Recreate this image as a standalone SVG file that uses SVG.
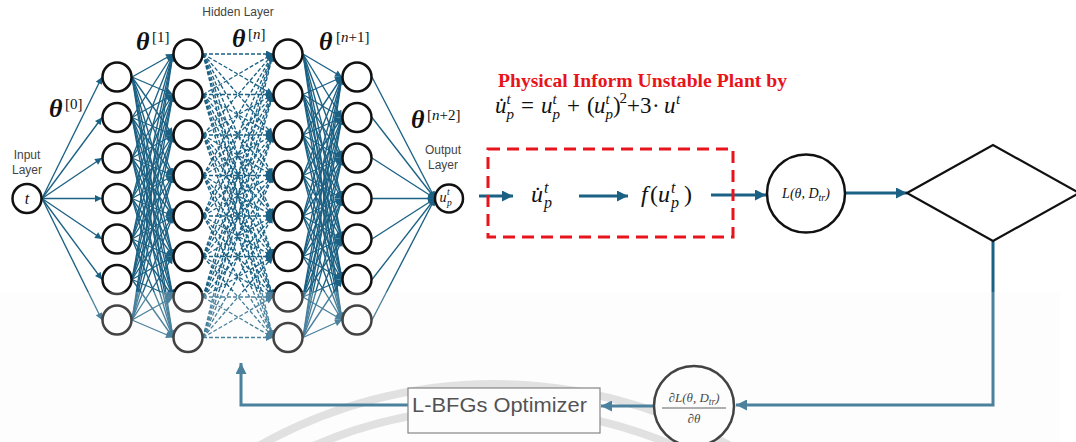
<svg xmlns="http://www.w3.org/2000/svg" width="1076" height="442" viewBox="0 0 1076 442">
<defs>
<style>
.nn{fill:#fff;stroke:#111;stroke-width:2.5}
.w{stroke:#1b6184;stroke-width:1.35;fill:none;marker-end:url(#ah)}
.d{stroke-dasharray:4 2}
.big{stroke:#1b6184;stroke-width:3;fill:none}
.bigA{marker-end:url(#ahBig)}
.m{font-family:"Liberation Serif","DejaVu Serif",serif;font-style:italic;fill:#111}
.r{font-family:"Liberation Serif","DejaVu Serif",serif;font-style:normal;fill:#111}
.th{font-family:"Liberation Serif","DejaVu Serif",serif;font-weight:bold;font-style:italic;font-size:26px;fill:#111}
.sup{font-family:"Liberation Serif","DejaVu Serif",serif;font-size:15px;fill:#111}
.lbl{font-family:"Liberation Sans",Arial,sans-serif;fill:#444;font-size:12px;text-anchor:middle}
</style>
<marker id="ah" viewBox="0 0 10 10" refX="10" refY="5" markerWidth="8" markerHeight="7" markerUnits="userSpaceOnUse" orient="auto"><path d="M0,0 L10,5 L0,10 z" fill="#1b6184"/></marker>
<marker id="ahBig" viewBox="0 0 10 10" refX="10" refY="5" markerWidth="13" markerHeight="11" markerUnits="userSpaceOnUse" orient="auto"><path d="M0,0 L10,5 L0,10 z" fill="#1b6184"/></marker>
</defs>
<rect width="1076" height="442" fill="#fff"/>

<!-- faint background arcs -->
<g fill="none" stroke="#dcdcdc" stroke-width="8">
<path d="M250,451 A480,480 0 0 1 760,464"/>
<path d="M300,452 A455,455 0 0 1 740,481"/>
</g>

<g id="connectors">
<!-- input -> layer 1 -->
<g class="w">
<line x1="42" y1="198.5" x2="102" y2="77"/>
<line x1="42" y1="198.5" x2="102" y2="117.5"/>
<line x1="42" y1="198.5" x2="102" y2="158"/>
<line x1="42" y1="198.5" x2="102" y2="198.5"/>
<line x1="42" y1="198.5" x2="102" y2="239"/>
<line x1="42" y1="198.5" x2="102" y2="279.5"/>
<line x1="42" y1="198.5" x2="102" y2="320"/>
</g>
<!-- layer 1 -> layer 2 -->
<g class="w">
<line x1="132" y1="77" x2="173" y2="54"/><line x1="132" y1="77" x2="173" y2="94.5"/><line x1="132" y1="77" x2="173" y2="135"/><line x1="132" y1="77" x2="173" y2="175.5"/><line x1="132" y1="77" x2="173" y2="216"/><line x1="132" y1="77" x2="173" y2="256.5"/><line x1="132" y1="77" x2="173" y2="297"/><line x1="132" y1="77" x2="173" y2="337.5"/>
<line x1="132" y1="117.5" x2="173" y2="54"/><line x1="132" y1="117.5" x2="173" y2="94.5"/><line x1="132" y1="117.5" x2="173" y2="135"/><line x1="132" y1="117.5" x2="173" y2="175.5"/><line x1="132" y1="117.5" x2="173" y2="216"/><line x1="132" y1="117.5" x2="173" y2="256.5"/><line x1="132" y1="117.5" x2="173" y2="297"/><line x1="132" y1="117.5" x2="173" y2="337.5"/>
<line x1="132" y1="158" x2="173" y2="54"/><line x1="132" y1="158" x2="173" y2="94.5"/><line x1="132" y1="158" x2="173" y2="135"/><line x1="132" y1="158" x2="173" y2="175.5"/><line x1="132" y1="158" x2="173" y2="216"/><line x1="132" y1="158" x2="173" y2="256.5"/><line x1="132" y1="158" x2="173" y2="297"/><line x1="132" y1="158" x2="173" y2="337.5"/>
<line x1="132" y1="198.5" x2="173" y2="54"/><line x1="132" y1="198.5" x2="173" y2="94.5"/><line x1="132" y1="198.5" x2="173" y2="135"/><line x1="132" y1="198.5" x2="173" y2="175.5"/><line x1="132" y1="198.5" x2="173" y2="216"/><line x1="132" y1="198.5" x2="173" y2="256.5"/><line x1="132" y1="198.5" x2="173" y2="297"/><line x1="132" y1="198.5" x2="173" y2="337.5"/>
<line x1="132" y1="239" x2="173" y2="54"/><line x1="132" y1="239" x2="173" y2="94.5"/><line x1="132" y1="239" x2="173" y2="135"/><line x1="132" y1="239" x2="173" y2="175.5"/><line x1="132" y1="239" x2="173" y2="216"/><line x1="132" y1="239" x2="173" y2="256.5"/><line x1="132" y1="239" x2="173" y2="297"/><line x1="132" y1="239" x2="173" y2="337.5"/>
<line x1="132" y1="279.5" x2="173" y2="54"/><line x1="132" y1="279.5" x2="173" y2="94.5"/><line x1="132" y1="279.5" x2="173" y2="135"/><line x1="132" y1="279.5" x2="173" y2="175.5"/><line x1="132" y1="279.5" x2="173" y2="216"/><line x1="132" y1="279.5" x2="173" y2="256.5"/><line x1="132" y1="279.5" x2="173" y2="297"/><line x1="132" y1="279.5" x2="173" y2="337.5"/>
<line x1="132" y1="320" x2="173" y2="54"/><line x1="132" y1="320" x2="173" y2="94.5"/><line x1="132" y1="320" x2="173" y2="135"/><line x1="132" y1="320" x2="173" y2="175.5"/><line x1="132" y1="320" x2="173" y2="216"/><line x1="132" y1="320" x2="173" y2="256.5"/><line x1="132" y1="320" x2="173" y2="297"/><line x1="132" y1="320" x2="173" y2="337.5"/>
</g>
<!-- layer 2 -> layer 3 (dashed) -->
<g class="w d">
<line x1="203" y1="54" x2="273" y2="54"/><line x1="203" y1="54" x2="273" y2="94.5"/><line x1="203" y1="54" x2="273" y2="135"/><line x1="203" y1="54" x2="273" y2="175.5"/><line x1="203" y1="54" x2="273" y2="216"/><line x1="203" y1="54" x2="273" y2="256.5"/><line x1="203" y1="54" x2="273" y2="297"/><line x1="203" y1="54" x2="273" y2="337.5"/>
<line x1="203" y1="94.5" x2="273" y2="54"/><line x1="203" y1="94.5" x2="273" y2="94.5"/><line x1="203" y1="94.5" x2="273" y2="135"/><line x1="203" y1="94.5" x2="273" y2="175.5"/><line x1="203" y1="94.5" x2="273" y2="216"/><line x1="203" y1="94.5" x2="273" y2="256.5"/><line x1="203" y1="94.5" x2="273" y2="297"/><line x1="203" y1="94.5" x2="273" y2="337.5"/>
<line x1="203" y1="135" x2="273" y2="54"/><line x1="203" y1="135" x2="273" y2="94.5"/><line x1="203" y1="135" x2="273" y2="135"/><line x1="203" y1="135" x2="273" y2="175.5"/><line x1="203" y1="135" x2="273" y2="216"/><line x1="203" y1="135" x2="273" y2="256.5"/><line x1="203" y1="135" x2="273" y2="297"/><line x1="203" y1="135" x2="273" y2="337.5"/>
<line x1="203" y1="175.5" x2="273" y2="54"/><line x1="203" y1="175.5" x2="273" y2="94.5"/><line x1="203" y1="175.5" x2="273" y2="135"/><line x1="203" y1="175.5" x2="273" y2="175.5"/><line x1="203" y1="175.5" x2="273" y2="216"/><line x1="203" y1="175.5" x2="273" y2="256.5"/><line x1="203" y1="175.5" x2="273" y2="297"/><line x1="203" y1="175.5" x2="273" y2="337.5"/>
<line x1="203" y1="216" x2="273" y2="54"/><line x1="203" y1="216" x2="273" y2="94.5"/><line x1="203" y1="216" x2="273" y2="135"/><line x1="203" y1="216" x2="273" y2="175.5"/><line x1="203" y1="216" x2="273" y2="216"/><line x1="203" y1="216" x2="273" y2="256.5"/><line x1="203" y1="216" x2="273" y2="297"/><line x1="203" y1="216" x2="273" y2="337.5"/>
<line x1="203" y1="256.5" x2="273" y2="54"/><line x1="203" y1="256.5" x2="273" y2="94.5"/><line x1="203" y1="256.5" x2="273" y2="135"/><line x1="203" y1="256.5" x2="273" y2="175.5"/><line x1="203" y1="256.5" x2="273" y2="216"/><line x1="203" y1="256.5" x2="273" y2="256.5"/><line x1="203" y1="256.5" x2="273" y2="297"/><line x1="203" y1="256.5" x2="273" y2="337.5"/>
<line x1="203" y1="297" x2="273" y2="54"/><line x1="203" y1="297" x2="273" y2="94.5"/><line x1="203" y1="297" x2="273" y2="135"/><line x1="203" y1="297" x2="273" y2="175.5"/><line x1="203" y1="297" x2="273" y2="216"/><line x1="203" y1="297" x2="273" y2="256.5"/><line x1="203" y1="297" x2="273" y2="297"/><line x1="203" y1="297" x2="273" y2="337.5"/>
<line x1="203" y1="337.5" x2="273" y2="54"/><line x1="203" y1="337.5" x2="273" y2="94.5"/><line x1="203" y1="337.5" x2="273" y2="135"/><line x1="203" y1="337.5" x2="273" y2="175.5"/><line x1="203" y1="337.5" x2="273" y2="216"/><line x1="203" y1="337.5" x2="273" y2="256.5"/><line x1="203" y1="337.5" x2="273" y2="297"/><line x1="203" y1="337.5" x2="273" y2="337.5"/>
</g>
<!-- layer 3 -> layer 4 -->
<g class="w">
<line x1="303" y1="54" x2="342" y2="77"/><line x1="303" y1="54" x2="342" y2="117.5"/><line x1="303" y1="54" x2="342" y2="158"/><line x1="303" y1="54" x2="342" y2="198.5"/><line x1="303" y1="54" x2="342" y2="239"/><line x1="303" y1="54" x2="342" y2="279.5"/><line x1="303" y1="54" x2="342" y2="320"/>
<line x1="303" y1="94.5" x2="342" y2="77"/><line x1="303" y1="94.5" x2="342" y2="117.5"/><line x1="303" y1="94.5" x2="342" y2="158"/><line x1="303" y1="94.5" x2="342" y2="198.5"/><line x1="303" y1="94.5" x2="342" y2="239"/><line x1="303" y1="94.5" x2="342" y2="279.5"/><line x1="303" y1="94.5" x2="342" y2="320"/>
<line x1="303" y1="135" x2="342" y2="77"/><line x1="303" y1="135" x2="342" y2="117.5"/><line x1="303" y1="135" x2="342" y2="158"/><line x1="303" y1="135" x2="342" y2="198.5"/><line x1="303" y1="135" x2="342" y2="239"/><line x1="303" y1="135" x2="342" y2="279.5"/><line x1="303" y1="135" x2="342" y2="320"/>
<line x1="303" y1="175.5" x2="342" y2="77"/><line x1="303" y1="175.5" x2="342" y2="117.5"/><line x1="303" y1="175.5" x2="342" y2="158"/><line x1="303" y1="175.5" x2="342" y2="198.5"/><line x1="303" y1="175.5" x2="342" y2="239"/><line x1="303" y1="175.5" x2="342" y2="279.5"/><line x1="303" y1="175.5" x2="342" y2="320"/>
<line x1="303" y1="216" x2="342" y2="77"/><line x1="303" y1="216" x2="342" y2="117.5"/><line x1="303" y1="216" x2="342" y2="158"/><line x1="303" y1="216" x2="342" y2="198.5"/><line x1="303" y1="216" x2="342" y2="239"/><line x1="303" y1="216" x2="342" y2="279.5"/><line x1="303" y1="216" x2="342" y2="320"/>
<line x1="303" y1="256.5" x2="342" y2="77"/><line x1="303" y1="256.5" x2="342" y2="117.5"/><line x1="303" y1="256.5" x2="342" y2="158"/><line x1="303" y1="256.5" x2="342" y2="198.5"/><line x1="303" y1="256.5" x2="342" y2="239"/><line x1="303" y1="256.5" x2="342" y2="279.5"/><line x1="303" y1="256.5" x2="342" y2="320"/>
<line x1="303" y1="297" x2="342" y2="77"/><line x1="303" y1="297" x2="342" y2="117.5"/><line x1="303" y1="297" x2="342" y2="158"/><line x1="303" y1="297" x2="342" y2="198.5"/><line x1="303" y1="297" x2="342" y2="239"/><line x1="303" y1="297" x2="342" y2="279.5"/><line x1="303" y1="297" x2="342" y2="320"/>
<line x1="303" y1="337.5" x2="342" y2="77"/><line x1="303" y1="337.5" x2="342" y2="117.5"/><line x1="303" y1="337.5" x2="342" y2="158"/><line x1="303" y1="337.5" x2="342" y2="198.5"/><line x1="303" y1="337.5" x2="342" y2="239"/><line x1="303" y1="337.5" x2="342" y2="279.5"/><line x1="303" y1="337.5" x2="342" y2="320"/>
</g>
<!-- layer 4 -> output -->
<g class="w">
<line x1="372" y1="77" x2="435" y2="198.5"/>
<line x1="372" y1="117.5" x2="435" y2="198.5"/>
<line x1="372" y1="158" x2="435" y2="198.5"/>
<line x1="372" y1="198.5" x2="435" y2="198.5"/>
<line x1="372" y1="239" x2="435" y2="198.5"/>
<line x1="372" y1="279.5" x2="435" y2="198.5"/>
<line x1="372" y1="320" x2="435" y2="198.5"/>
</g>
<!-- physics / loss / optimizer flow -->
<g class="big bigA">
<line x1="479" y1="196" x2="513" y2="196"/>
<line x1="579" y1="196" x2="628" y2="196"/>
<line x1="711" y1="195" x2="766" y2="195"/>
<line x1="845" y1="193" x2="907" y2="193"/>
<path d="M993,241 V405 H736"/>
<line x1="653" y1="406" x2="601" y2="406"/>
<path d="M408,405 H241 V363"/>
</g>
</g>

<!-- network nodes -->
<g id="input"><circle class="nn" cx="27" cy="198.5" r="14.5"/><text class="m" x="27" y="204" font-size="16" text-anchor="middle">t</text></g>
<g id="h1n1"><circle class="nn" cx="117" cy="77" r="14.5"/></g>
<g id="h1n2"><circle class="nn" cx="117" cy="117.5" r="14.5"/></g>
<g id="h1n3"><circle class="nn" cx="117" cy="158" r="14.5"/></g>
<g id="h1n4"><circle class="nn" cx="117" cy="198.5" r="14.5"/></g>
<g id="h1n5"><circle class="nn" cx="117" cy="239" r="14.5"/></g>
<g id="h1n6"><circle class="nn" cx="117" cy="279.5" r="14.5"/></g>
<g id="h1n7"><circle class="nn" cx="117" cy="320" r="14.5"/></g>
<g id="h2n1"><circle class="nn" cx="188" cy="54" r="14.5"/></g>
<g id="h2n2"><circle class="nn" cx="188" cy="94.5" r="14.5"/></g>
<g id="h2n3"><circle class="nn" cx="188" cy="135" r="14.5"/></g>
<g id="h2n4"><circle class="nn" cx="188" cy="175.5" r="14.5"/></g>
<g id="h2n5"><circle class="nn" cx="188" cy="216" r="14.5"/></g>
<g id="h2n6"><circle class="nn" cx="188" cy="256.5" r="14.5"/></g>
<g id="h2n7"><circle class="nn" cx="188" cy="297" r="14.5"/></g>
<g id="h2n8"><circle class="nn" cx="188" cy="337.5" r="14.5"/></g>
<g id="h3n1"><circle class="nn" cx="288" cy="54" r="14.5"/></g>
<g id="h3n2"><circle class="nn" cx="288" cy="94.5" r="14.5"/></g>
<g id="h3n3"><circle class="nn" cx="288" cy="135" r="14.5"/></g>
<g id="h3n4"><circle class="nn" cx="288" cy="175.5" r="14.5"/></g>
<g id="h3n5"><circle class="nn" cx="288" cy="216" r="14.5"/></g>
<g id="h3n6"><circle class="nn" cx="288" cy="256.5" r="14.5"/></g>
<g id="h3n7"><circle class="nn" cx="288" cy="297" r="14.5"/></g>
<g id="h3n8"><circle class="nn" cx="288" cy="337.5" r="14.5"/></g>
<g id="h4n1"><circle class="nn" cx="357" cy="77" r="14.5"/></g>
<g id="h4n2"><circle class="nn" cx="357" cy="117.5" r="14.5"/></g>
<g id="h4n3"><circle class="nn" cx="357" cy="158" r="14.5"/></g>
<g id="h4n4"><circle class="nn" cx="357" cy="198.5" r="14.5"/></g>
<g id="h4n5"><circle class="nn" cx="357" cy="239" r="14.5"/></g>
<g id="h4n6"><circle class="nn" cx="357" cy="279.5" r="14.5"/></g>
<g id="h4n7"><circle class="nn" cx="357" cy="320" r="14.5"/></g>
<g id="output"><circle class="nn" cx="449" cy="198.5" r="14"/>
<text class="m" x="439.5" y="202" font-size="14">u</text><text class="m" x="447" y="195" font-size="9.5">t</text><text class="m" x="447" y="206" font-size="9.5">p</text></g>

<!-- layer labels -->
<g id="labels">
<text class="lbl" x="27" y="159">Input</text>
<text class="lbl" x="27" y="174">Layer</text>
<text class="lbl" x="238" y="16" font-size="11.5">Hidden Layer</text>
<text class="lbl" x="443" y="154">Output</text>
<text class="lbl" x="443" y="169">Layer</text>
<text class="th" x="49" y="117">θ</text><text class="sup" x="65" y="109">[0]</text>
<text class="th" x="136" y="50">θ</text><text class="sup" x="152" y="42">[1]</text>
<text class="th" x="232" y="47">θ</text><text class="sup" x="248" y="39">[<tspan font-style="italic">n</tspan>]</text>
<text class="th" x="319" y="50">θ</text><text class="sup" x="336" y="42">[<tspan font-style="italic">n</tspan>+1]</text>
<text class="th" x="411" y="128">θ</text><text class="sup" x="427" y="120">[<tspan font-style="italic">n</tspan>+2]</text>
</g>

<!-- plant model description -->
<g id="plant-title">
<text x="498" y="87" font-family="'Liberation Serif','Times New Roman',serif" font-weight="bold" font-size="19.5" fill="#e8141b" textLength="289" lengthAdjust="spacingAndGlyphs">Physical Inform Unstable Plant by</text>
</g>
<g id="plant-equation" font-size="23">
<text class="m" x="495" y="113">u&#x307;</text><text class="m" x="506.5" y="104" font-size="15">t</text><text class="m" x="506.5" y="119" font-size="15">p</text>
<text class="r" x="521" y="113">=</text>
<text class="m" x="541" y="113">u</text><text class="m" x="552.5" y="104" font-size="15">t</text><text class="m" x="552.5" y="119" font-size="15">p</text>
<text class="r" x="567" y="113">+</text>
<text class="r" x="587" y="113">(</text><text class="m" x="594" y="113">u</text><text class="m" x="605.5" y="104" font-size="15">t</text><text class="m" x="605.5" y="119" font-size="15">p</text><text class="r" x="613" y="113">)</text><text class="r" x="619.5" y="103" font-size="15">2</text>
<text class="r" x="627" y="113">+3</text>
<text class="r" x="652" y="113">·</text>
<text class="m" x="664" y="113">u</text><text class="m" x="676" y="104" font-size="15">t</text>
</g>

<!-- physics block -->
<g id="physics-box">
<rect x="488" y="149" width="245" height="88" fill="none" stroke="#e8141b" stroke-width="3" stroke-dasharray="12 7"/>
</g>
<g id="udot">
<text class="m" x="531" y="202" font-size="24">u&#x307;</text><text class="m" x="544" y="193" font-size="16">t</text><text class="m" x="544" y="208" font-size="16">p</text>
</g>
<g id="f-u">
<text class="m" x="641" y="202" font-size="24">f</text><text class="r" x="650" y="202" font-size="24">(</text><text class="m" x="658" y="202" font-size="24">u</text><text class="m" x="671" y="193" font-size="16">t</text><text class="m" x="671" y="208" font-size="16">p</text><text class="r" x="684" y="202" font-size="24">)</text>
</g>

<!-- loss -->
<g id="loss">
<circle class="nn" cx="806" cy="193.5" r="39" stroke-width="2.2"/>
<text class="m" x="806" y="198" font-size="14" text-anchor="middle">L(θ, D<tspan font-size="10" dy="3">tr</tspan><tspan dy="-3">)</tspan></text>
</g>

<!-- decision -->
<g id="decision">
<polygon points="907,193 993,145 1079,193 993,241" fill="#fff" stroke="#111" stroke-width="2.2"/>
</g>

<!-- gradient -->
<g id="gradient">
<circle class="nn" cx="694" cy="406" r="40" stroke-width="2.2"/>
<text class="m" x="694" y="402" font-size="13" text-anchor="middle">∂L(θ, D<tspan font-size="9.5" dy="2.5">tr</tspan><tspan dy="-2.5">)</tspan></text>
<line x1="662" y1="408" x2="726" y2="408" stroke="#222" stroke-width="0.9"/>
<text class="m" x="694" y="423" font-size="13" text-anchor="middle">∂θ</text>
</g>

<!-- optimizer -->
<g id="optimizer">
<rect x="408" y="388" width="192" height="45" fill="#fff" stroke="#666" stroke-width="1.2"/>
<text x="412" y="412" font-family="'Liberation Sans',Arial,sans-serif" font-size="21" fill="#262626" textLength="175" lengthAdjust="spacingAndGlyphs">L-BFGs Optimizer</text>
</g>

<!-- light haze over the lower band -->
<rect x="0" y="292" width="1060" height="150" fill="#f8f8f8" opacity="0.22"/>
</svg>
